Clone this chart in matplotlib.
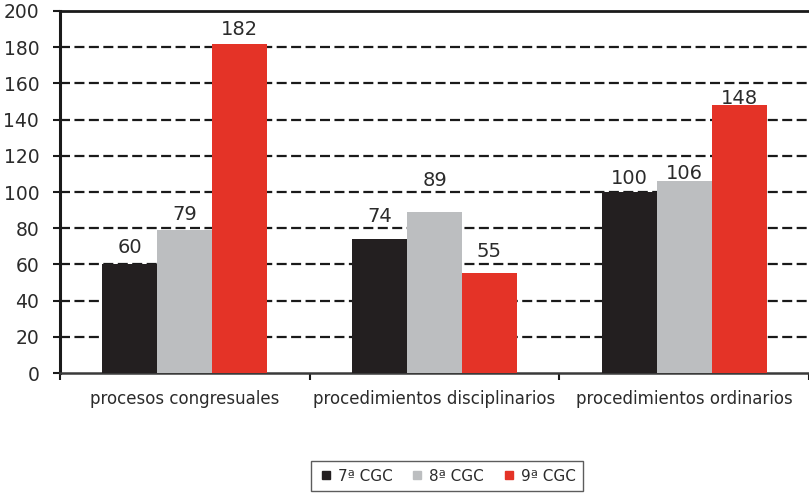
import numpy as np
import matplotlib
matplotlib.use('Agg')
import matplotlib.pyplot as plt
from matplotlib.lines import Line2D

# data
categories = ['procesos congresuales', 'procedimientos disciplinarios', 'procedimientos ordinarios']
series = ['7ª CGC', '8ª CGC', '9ª CGC']
v7 = [60, 74, 100]
v8 = [79, 89, 106]
v9 = [182, 55, 148]
yticks = [0, 20, 40, 60, 80, 100, 120, 140, 160, 180, 200]

# gap (in points) between bar top and its value label, as placed in the original
pad7 = [8.5, 12, 6]
pad8 = [7, 19, 1.5]
pad9 = [6.5, 12, 1]

colors = ['#231f20', '#bcbec0', '#e43327']
txt = '#2b2b2b'

plt.rcParams['font.family'] = ['DejaVu Sans']

fig = plt.figure(figsize=(8.09, 4.94), dpi=100)
ax = fig.add_axes([60 / 809, 121 / 494, 749 / 809, 362 / 494])

x = np.arange(len(categories)) + 0.5
width = 0.22
offsets = [-width, 0, width]

for vals, pads, off, col in zip([v7, v8, v9], [pad7, pad8, pad9], offsets, colors):
    bars = ax.bar(x + off, vals, width, color=col, zorder=3, linewidth=0)
    for b, v, p in zip(bars, vals, pads):
        ax.annotate(str(v), xy=(b.get_x() + b.get_width() / 2, v),
                    xytext=(0, p), textcoords='offset points',
                    ha='center', va='baseline', fontsize=14, color=txt, zorder=4)

# dashed grid
for t in yticks[1:-1]:
    ax.axhline(t, color='#1a1a1a', linestyle=(0, (4.5, 2)), linewidth=1.6, zorder=1)

ax.set_xlim(0, 3)
ax.set_ylim(0, 200)
ax.set_yticks(yticks)
ax.set_yticklabels([str(t) for t in yticks], fontsize=13.5, color=txt)
ax.set_xticks([0, 1, 2, 3], minor=True)
ax.set_xticks(x)
ax.set_xticklabels(categories, fontsize=12, color=txt)
ax.tick_params(axis='x', which='major', length=0, pad=12)
ax.tick_params(axis='x', which='minor', length=5, width=1.5, color='#1a1a1a')
ax.tick_params(axis='y', length=5, width=1.5, color='#1a1a1a', pad=10)

ax.spines['right'].set_visible(False)
ax.spines['left'].set_linewidth(2.2)
ax.spines['left'].set_color('#1a1a1a')
ax.spines['bottom'].set_linewidth(1.8)
ax.spines['bottom'].set_color('#3a3a3a')
ax.spines['top'].set_linewidth(2.0)
ax.spines['top'].set_color('#1a1a1a')

handles = [Line2D([0], [0], marker='s', linestyle='none', markersize=6,
                  markerfacecolor=c, markeredgecolor=c) for c in colors]
leg = fig.legend(handles, series, loc='center', bbox_to_anchor=(447 / 809, 1 - 476 / 494),
                 ncol=3, fontsize=11, frameon=True, fancybox=False,
                 edgecolor='#333333', handletextpad=0.3, columnspacing=1.1,
                 borderpad=0.5, handlelength=1.0)
leg.get_frame().set_linewidth(1.0)
for t in leg.get_texts():
    t.set_color(txt)

fig.savefig('out.png', dpi=100, facecolor='white')
